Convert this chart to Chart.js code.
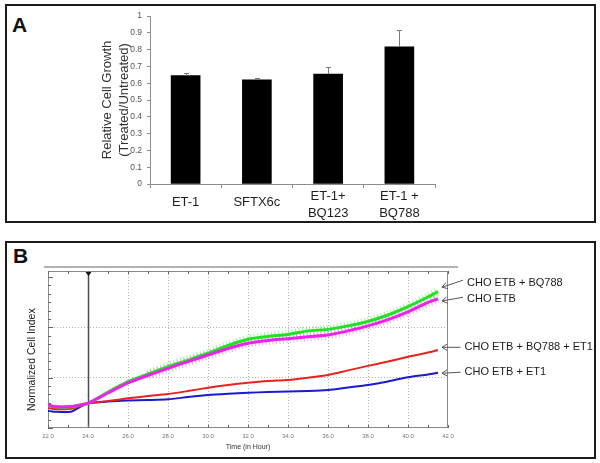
<!DOCTYPE html>
<html><head><meta charset="utf-8">
<script src="https://cdn.jsdelivr.net/npm/chart.js@4.4.0/dist/chart.umd.min.js"></script>
<style>
html,body{margin:0;padding:0;background:#fff;width:600px;height:463px;overflow:hidden;font-family:"Liberation Sans",Arial,sans-serif}
.panel{position:absolute;left:5px;width:587px;border:2px solid #1c1c1c;}
#pA{top:4px;height:215px}
#pB{top:241px;height:214px}
.lbl{position:absolute;font-weight:bold;font-size:21px;line-height:21px;color:#111}
.wrap{position:absolute;left:0;width:600px}
canvas{display:block}
</style></head><body>
<div class="panel" id="pA"></div>
<div class="panel" id="pB"></div>
<div class="lbl" style="left:12px;top:14px">A</div>
<div class="lbl" style="left:13px;top:245px">B</div>
<div class="wrap" style="top:0;height:224px"><canvas id="cA"></canvas></div>
<div class="wrap" style="top:236px;height:222px"><canvas id="cB"></canvas></div>
<script>
const FONT = '"Liberation Sans", Arial, sans-serif';

// ---- Panel A data ----
const treatmentLabels = ['ET-1', 'SFTX6c', ['ET-1+', 'BQ123'], ['ET-1 +', 'BQ788']];
const relativeGrowth = [0.645, 0.62, 0.655, 0.817];
const growthError = [0.015, 0.013, 0.04, 0.10];

// ---- Panel B data ----
const hours = [22.0, 22.3, 23.15, 23.7, 24, 25, 26, 27, 28, 29, 30, 31, 32, 33, 34, 35, 36, 37, 38, 39, 40, 41, 41.5];
const seriesNames = ['CHO ETB + BQ788', 'CHO ETB', 'CHO ETB + BQ788 + ET1', 'CHO ETB + ET1'];
const ciEtbBq788 = [0.90, 0.84, 0.84, 0.93, 0.98, 1.43, 1.84, 2.15, 2.44, 2.70, 2.97, 3.28, 3.53, 3.64, 3.72, 3.86, 3.92, 4.06, 4.23, 4.49, 4.82, 5.21, 5.42];
const ciEtb = [0.94, 0.85, 0.85, 0.93, 0.98, 1.39, 1.79, 2.09, 2.37, 2.64, 2.90, 3.16, 3.37, 3.48, 3.55, 3.63, 3.70, 3.86, 4.06, 4.31, 4.62, 4.99, 5.13];
const ciEtbBq788Et1 = [0.80, 0.76, 0.76, 0.90, 0.98, 1.07, 1.18, 1.27, 1.35, 1.47, 1.60, 1.71, 1.80, 1.87, 1.91, 2.00, 2.11, 2.29, 2.47, 2.64, 2.83, 3.00, 3.10];
const ciEtbEt1 = [0.68, 0.65, 0.65, 0.88, 0.98, 1.05, 1.09, 1.11, 1.14, 1.23, 1.31, 1.36, 1.40, 1.43, 1.45, 1.47, 1.51, 1.61, 1.71, 1.85, 2.02, 2.13, 2.20];
const yMajorTicks = [2, 4, 6];

// ---- Panel A chart ----
const errorBarPlugin = {
  id: 'errbars',
  afterDatasetsDraw(chart) {
    const meta = chart.getDatasetMeta(0), ys = chart.scales.y, ctx = chart.ctx;
    ctx.save();
    ctx.strokeStyle = '#7a7a7a'; ctx.lineWidth = 1;
    meta.data.forEach((bar, i) => {
      const top = Math.round(ys.getPixelForValue(relativeGrowth[i] + growthError[i])) + 0.5;
      const x = Math.round(bar.x) + 0.5;
      ctx.beginPath();
      ctx.moveTo(x, bar.y); ctx.lineTo(x, top);
      ctx.moveTo(x - 2.5, top); ctx.lineTo(x + 2.5, top);
      ctx.stroke();
    });
    ctx.restore();
  }
};

new Chart(document.getElementById('cA'), {
  type: 'bar',
  data: { labels: treatmentLabels, datasets: [{ data: relativeGrowth, backgroundColor: '#000', barThickness: 29 }] },
  options: {
    responsive: true, maintainAspectRatio: false, animation: false, devicePixelRatio: 1,
    layout: { padding: { left: 91, right: 165, top: 16, bottom: 4 } },
    plugins: { legend: { display: false }, tooltip: { enabled: false } },
    scales: {
      x: {
        grid: { drawOnChartArea: false, tickLength: 4, color: '#8c8c8c', offset: true },
        border: { color: '#8c8c8c' },
        ticks: {
          color: '#1e1e1e', padding: 0, maxRotation: 0, autoSkip: false,
          font: (c) => ({ family: FONT, size: 13, lineHeight: Array.isArray(treatmentLabels[c.index]) ? 1.3 : 2.18 })
        },
        afterFit(s) { s.height = 36; }
      },
      y: {
        min: 0, max: 1,
        ticks: { stepSize: 0.1, color: '#555', padding: 5, font: { family: FONT, size: 8.5 }, callback: v => String(Math.round(v * 10) / 10) },
        grid: { drawOnChartArea: false, tickLength: 3, color: '#8c8c8c' },
        border: { color: '#8c8c8c' },
        title: { display: true, text: ['Relative Cell Growth', '(Treated/Untreated)'], color: '#333', font: { family: FONT, size: 13, lineHeight: 1.38 }, padding: { top: 7, bottom: 0 } },
        afterFit(s) { s.width = 59; }
      }
    }
  },
  plugins: [errorBarPlugin]
});

// ---- Panel B chart ----
const mk = arr => hours.map((h, i) => ({ x: h, y: arr[i] }));
const labelLayout = [
  { dx: 19, ty: 46.7, tail: -2.5, head: -4.4 },
  { dx: 19, ty: 63.3, tail: -2, head: 2 },
  { dx: 16.5, ty: 111.3, tail: 0, head: -2.7 },
  { dx: 16.5, ty: 135.7, tail: 0.5, head: 0.6 }
];

const framePlugin = {
  id: 'frame',
  beforeDatasetsDraw(chart) {
    const { ctx, chartArea: a, scales: { x, y } } = chart;
    ctx.save();
    const x24 = Math.round(x.getPixelForValue(24)) + 0.5;
    ctx.strokeStyle = '#4a4a4a'; ctx.lineWidth = 1.5;
    ctx.beginPath(); ctx.moveTo(x24, a.top); ctx.lineTo(x24, a.bottom); ctx.stroke();
    ctx.strokeStyle = '#8a8a8a'; ctx.lineWidth = 1;
    ctx.strokeRect(a.left + 0.5, a.top + 0.5, a.width - 1, a.height - 1);
    ctx.strokeStyle = '#9a9a9a'; ctx.lineWidth = 1.5;
    ctx.beginPath(); ctx.moveTo(a.left - 4, a.top - 4); ctx.lineTo(a.right + 10, a.top - 4); ctx.stroke();
    ctx.strokeStyle = '#666'; ctx.lineWidth = 1;
    ctx.beginPath();
    for (let h = 22; h <= 42; h++) {
      const px = Math.round(x.getPixelForValue(h)) + 0.5;
      ctx.moveTo(px, a.top); ctx.lineTo(px, a.top + 3);
      ctx.moveTo(px, a.bottom); ctx.lineTo(px, a.bottom - 3);
    }
    for (let k = 0; k <= 18; k++) {
      const py = Math.round(y.getPixelForValue(k / 3)) + 0.5;
      const len = k % 6 === 0 ? 5 : 3;
      ctx.moveTo(a.left, py); ctx.lineTo(a.left + len, py);
    }
    ctx.stroke();
    ctx.fillStyle = '#111';
    ctx.beginPath(); ctx.moveTo(x24 - 3, a.top + 1); ctx.lineTo(x24 + 3, a.top + 1); ctx.lineTo(x24, a.top + 5); ctx.closePath(); ctx.fill();
    ctx.restore();
  },
  afterDraw(chart) {
    const { ctx, chartArea: a } = chart;
    ctx.save();
    ctx.font = '11px ' + FONT;
    ctx.textBaseline = 'middle';
    ctx.textAlign = 'left';
    seriesNames.forEach((name, i) => {
      const L = labelLayout[i];
      const meta = chart.getDatasetMeta(i);
      const p = meta.data[meta.data.length - 1];
      const hx = p.x + 4, hy = p.y + L.head;
      const tx = a.right + L.dx - 4, ty = L.ty + L.tail;
      ctx.strokeStyle = '#555'; ctx.lineWidth = 1;
      ctx.beginPath(); ctx.moveTo(tx, ty); ctx.lineTo(hx, hy);
      const ang = Math.atan2(ty - hy, tx - hx);
      ctx.moveTo(hx + 6 * Math.cos(ang + 0.55), hy + 6 * Math.sin(ang + 0.55)); ctx.lineTo(hx, hy);
      ctx.lineTo(hx + 6 * Math.cos(ang - 0.55), hy + 6 * Math.sin(ang - 0.55));
      ctx.stroke();
      ctx.fillStyle = '#1a1a1a';
      ctx.fillText(name, a.right + L.dx, L.ty);
    });
    ctx.restore();
  }
};

const transparent = 'rgba(0,0,0,0)';
const hatchSegment = { borderColor: c => (c.p0.parsed.x < 27 ? transparent : undefined) };
new Chart(document.getElementById('cB'), {
  type: 'line',
  data: {
    datasets: [
      { label: seriesNames[0], data: mk(ciEtbBq788), borderColor: '#22e022', borderWidth: 3, order: 2 },
      { label: seriesNames[1], data: mk(ciEtb), borderColor: '#ee22ee', borderWidth: 3, order: 1 },
      { label: seriesNames[2], data: mk(ciEtbBq788Et1), borderColor: '#e8231e', borderWidth: 2, order: 3 },
      { label: seriesNames[3], data: mk(ciEtbEt1), borderColor: '#1a1ad0', borderWidth: 2, order: 4 },
      { label: 'err1', data: mk(ciEtbBq788), borderColor: 'rgba(80,235,80,0.55)', borderWidth: 9, borderDash: [1, 2.5], order: 6, segment: hatchSegment },
      { label: 'err2', data: mk(ciEtb), borderColor: 'rgba(240,100,240,0.55)', borderWidth: 9, borderDash: [1, 2.5], order: 5, segment: hatchSegment }
    ]
  },
  options: {
    responsive: true, maintainAspectRatio: false, animation: false, devicePixelRatio: 1,
    layout: { padding: { left: 20, right: 152, top: 35, bottom: 4 } },
    elements: { point: { radius: 0 }, line: { tension: 0.25, fill: false } },
    plugins: { legend: { display: false }, tooltip: { enabled: false } },
    scales: {
      x: {
        type: 'linear', min: 22, max: 42,
        ticks: { stepSize: 2, autoSkip: false, maxRotation: 0, padding: 4.5, color: '#777', font: { family: FONT, size: 6 }, callback: v => Number(v).toFixed(1) },
        grid: { drawTicks: false, color: c => (c.tick && c.tick.value > 24 && c.tick.value < 42) ? '#b0b0b0' : transparent },
        border: { display: false, dash: [1, 2] },
        title: { display: true, text: 'Time (in Hour)', color: '#333', font: { family: FONT, size: 7 }, padding: { top: 0, bottom: 3 } },
        afterFit(s) { s.height = 26; }
      },
      y: {
        min: 0, max: 6.24,
        ticks: { display: false, stepSize: 2 },
        grid: { drawTicks: false, color: c => (c.tick && yMajorTicks.includes(c.tick.value)) ? '#b0b0b0' : transparent },
        border: { display: false, dash: [1, 2] },
        title: { display: true, text: 'Normalized Cell Index       ', color: '#222', font: { family: FONT, size: 10.5 }, padding: { top: 6, bottom: 0 } },
        afterFit(s) { s.width = 28; }
      }
    }
  },
  plugins: [framePlugin]
});
</script>
</body></html>
